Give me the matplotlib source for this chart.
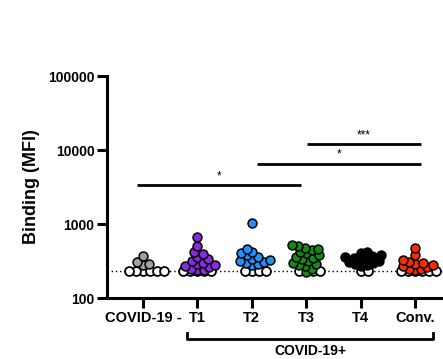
import numpy as np
import matplotlib.pyplot as plt
from matplotlib.transforms import blended_transform_factory

plt.rcParams['font.family'] = ['Liberation Sans', 'DejaVu Sans']
plt.rcParams['font.weight'] = 'bold'

groups = ['COVID-19 -', 'T1', 'T2', 'T3', 'T4', 'Conv.']
colors = ['#a0a0a0', '#8a2be2', '#1e90ff', '#138a13', '#000000', '#ff2a00']
cutoff = 230

# values (points above cutoff), plus count at cutoff
above = [
    [370, 310, 290, 280],
    [660, 500, 420, 390, 360, 340, 320, 300, 290, 280, 270, 260, 250, 240, 240],
    [1030, 460, 420, 400, 380, 360, 340, 330, 320, 310, 300, 290, 280],
    [520, 500, 480, 460, 440, 420, 400, 380, 360, 350, 340, 320, 300, 290, 280, 270, 250, 225],
    [420, 400, 380, 370, 360, 350, 340, 330, 320, 310, 300, 290, 280, 270],
    [480, 380, 330, 310, 300, 290, 280, 270, 260, 250, 250, 240],
]
at_cutoff = [6, 5, 4, 4, 2, 6]

# significance bars: (x start, x end, y, label)
sig = [(3.01, 5.11, 12000, '***'), (2.1, 5.11, 6500, '*'), (-0.11, 2.9, 3350, '*')]

fig = plt.figure(figsize=(4.43, 3.59), dpi=100)
ax = fig.add_axes([107/443, 61/359, 336/443, 222/359])
ax.set_yscale('log')
ax.set_ylim(100, 100000)
ax.set_xlim(-0.66, 5.51)

def swarm(xc, vals, mind):
    pts = ax.transData.transform(np.column_stack([np.full(len(vals), xc), vals]))
    placed = []
    for px, py in pts:
        for k in range(300):
            off = (k + 1) // 2 * (1 if k % 2 else -1) * 0.5
            if all((px + off - qx) ** 2 + (py - qy) ** 2 >= mind ** 2 for qx, qy in placed):
                break
        placed.append((px + off, py))
    inv = ax.transData.inverted()
    return [inv.transform(p)[0] for p in placed]

ms = 6.4
diam = ms / 72 * 100
ax.axhline(cutoff, color='black', ls=(0, (1, 2)), lw=1, zorder=1)
for i, (vals, n0) in enumerate(zip(above, at_cutoff)):
    wv = [cutoff] * n0
    cv = sorted(vals)
    wx = swarm(i, wv, 0.78 * diam)
    cx = swarm(i, cv, 0.68 * diam)
    ax.plot(wx, wv, 'o', ms=ms, mfc='white', mec='black', mew=1.3, ls='none', zorder=3)
    ax.plot(cx, cv, 'o', ms=ms, mfc=colors[i], mec='black', mew=1.1, ls='none', zorder=4)

for x0, x1, y, lab in sig:
    ax.plot([x0, x1], [y, y], color='black', lw=2, solid_capstyle='butt', clip_on=False)
    ax.text((x0 + x1) / 2, y * 1.1, lab, ha='center', va='bottom', fontsize=8.5, fontweight='normal')

ax.set_xticks(range(len(groups)))
ax.set_xticklabels(groups, fontsize=10.5, fontweight='bold')
ax.set_yticks([100, 1000, 10000, 100000])
ax.set_yticklabels(['100', '1000', '10000', '100000'], fontsize=10, fontweight='bold')
ax.minorticks_off()
ax.tick_params(axis='both', length=7, width=2.2, direction='out', pad=2)
ax.set_ylabel('Binding (MFI)', fontsize=13, fontweight='bold', labelpad=6)
for s in ['top', 'right']:
    ax.spines[s].set_visible(False)
for s in ['left', 'bottom']:
    ax.spines[s].set_linewidth(2.2)

tr = blended_transform_factory(ax.transData, ax.transAxes)
bx0, bx1 = 0.81, 5.33
ax.plot([bx0, bx0, bx1, bx1], [-0.158, -0.185, -0.185, -0.158], color='black', lw=2,
        transform=tr, clip_on=False)
ax.text((bx0 + bx1) / 2, -0.205, 'COVID-19+', transform=tr, ha='center', va='top',
        fontsize=10, fontweight='bold')

fig.savefig('out.png', dpi=100)
